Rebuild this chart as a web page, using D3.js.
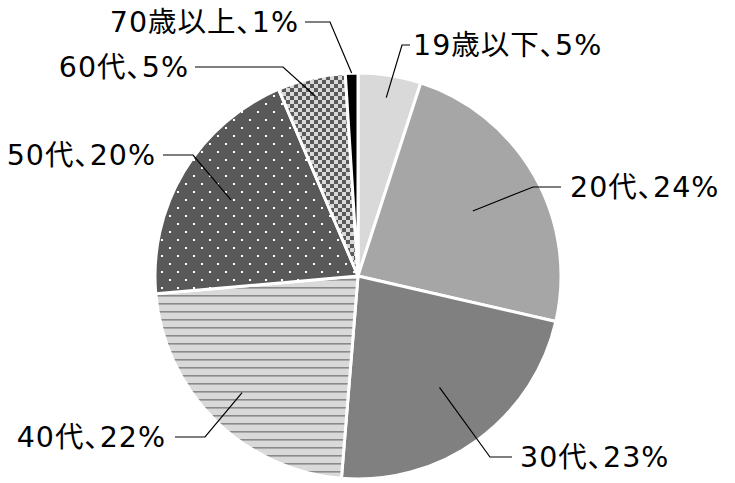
<!DOCTYPE html>
<html>
<head>
<meta charset="utf-8">
<script src="https://cdn.jsdelivr.net/npm/d3@7"></script>
<style>
  html, body { margin: 0; padding: 0; background: #fff; }
  svg { display: block; }
  text {
    font-family: "DejaVu Sans", "Noto Sans CJK JP", sans-serif;
    font-feature-settings: "palt";
  }
</style>
</head>
<body>
<script>
// age groups, clockwise from 12 o'clock
const categories = ['19歳以下', '20代', '30代', '40代', '50代', '60代', '70歳以上'];
const shares = [5.0, 23.6, 22.7, 22.3, 20.0, 5.4, 1.0];

// fill for each slice (solid colour or pattern id)
const fills = ['#d9d9d9', '#a6a6a6', '#808080', 'url(#hlines)', 'url(#dots)', 'url(#checker)', '#000000'];

// label layout: text anchor point, side, horizontal leader ends, leader depth in slice
const labelLayout = [
  { x: 413, y: 45, anchor: 'start', h1: 410, h2: 402, depth: 0.89 },
  { x: 570, y: 187, anchor: 'start', h1: 561, h2: 533, depth: 0.65 },
  { x: 520, y: 457, anchor: 'start', h1: 512, h2: 490, depth: 0.68 },
  { x: 166, y: 437, anchor: 'end', h1: 175, h2: 205, depth: 0.81 },
  { x: 156, y: 155, anchor: 'end', h1: 163, h2: 193, depth: 0.73 },
  { x: 189, y: 67, anchor: 'end', h1: 195, h2: 283, depth: 0.91 },
  { x: 299, y: 22, anchor: 'end', h1: 305, h2: 330, depth: 1.0 }
];

const width = 735;
const height = 483;
const cx = 358;
const cy = 276;
const radius = 203;

const svg = d3.select('body').append('svg')
  .attr('width', width)
  .attr('height', height);

const defs = svg.append('defs');

const hl = defs.append('pattern').attr('id', 'hlines')
  .attr('patternUnits', 'userSpaceOnUse').attr('width', 8).attr('height', 8);
hl.append('rect').attr('width', 8).attr('height', 8).attr('fill', '#d9d9d9');
hl.append('rect').attr('y', 3).attr('width', 8).attr('height', 1.6).attr('fill', '#8a8a8a');

const dots = defs.append('pattern').attr('id', 'dots')
  .attr('patternUnits', 'userSpaceOnUse').attr('width', 16).attr('height', 16);
dots.append('rect').attr('width', 16).attr('height', 16).attr('fill', '#595959');
dots.append('rect').attr('x', 3).attr('y', 3).attr('width', 2).attr('height', 2).attr('fill', '#fff');
dots.append('rect').attr('x', 11).attr('y', 11).attr('width', 2).attr('height', 2).attr('fill', '#fff');

const chk = defs.append('pattern').attr('id', 'checker')
  .attr('patternUnits', 'userSpaceOnUse').attr('width', 8).attr('height', 8);
chk.append('rect').attr('width', 8).attr('height', 8).attr('fill', '#d9d9d9');
chk.append('rect').attr('width', 4).attr('height', 4).attr('fill', '#595959');
chk.append('rect').attr('x', 4).attr('y', 4).attr('width', 4).attr('height', 4).attr('fill', '#595959');

const pie = d3.pie().sort(null).value(d => d);
const arcs = pie(shares);
const arc = d3.arc().innerRadius(0).outerRadius(radius);

const g = svg.append('g').attr('transform', `translate(${cx},${cy})`);

g.selectAll('path.slice')
  .data(arcs)
  .join('path')
  .attr('class', 'slice')
  .attr('d', arc)
  .attr('fill', (d, i) => fills[i])
  .attr('stroke', '#fff')
  .attr('stroke-width', 3)
  .attr('stroke-linejoin', 'round');

// leader lines
arcs.forEach((d, i) => {
  const L = labelLayout[i];
  const mid = (d.startAngle + d.endAngle) / 2;
  const r = radius * L.depth;
  const px = cx + Math.sin(mid) * r;
  const py = cy - Math.cos(mid) * r;
  svg.append('path')
    .attr('d', d3.line()([[L.h1, L.y], [L.h2, L.y], [px, py]]))
    .attr('fill', 'none')
    .attr('stroke', '#000')
    .attr('stroke-width', 1.2);
});

svg.selectAll('text.label')
  .data(arcs)
  .join('text')
  .attr('class', 'label')
  .attr('x', (d, i) => labelLayout[i].x)
  .attr('y', (d, i) => labelLayout[i].y)
  .attr('dy', '0.36em')
  .attr('text-anchor', (d, i) => labelLayout[i].anchor)
  .attr('font-size', 28.5)
  .attr('letter-spacing', 1)
  .attr('fill', '#000')
  .text((d, i) => `${categories[i]}、${Math.round(shares[i])}%`);
</script>
</body>
</html>
